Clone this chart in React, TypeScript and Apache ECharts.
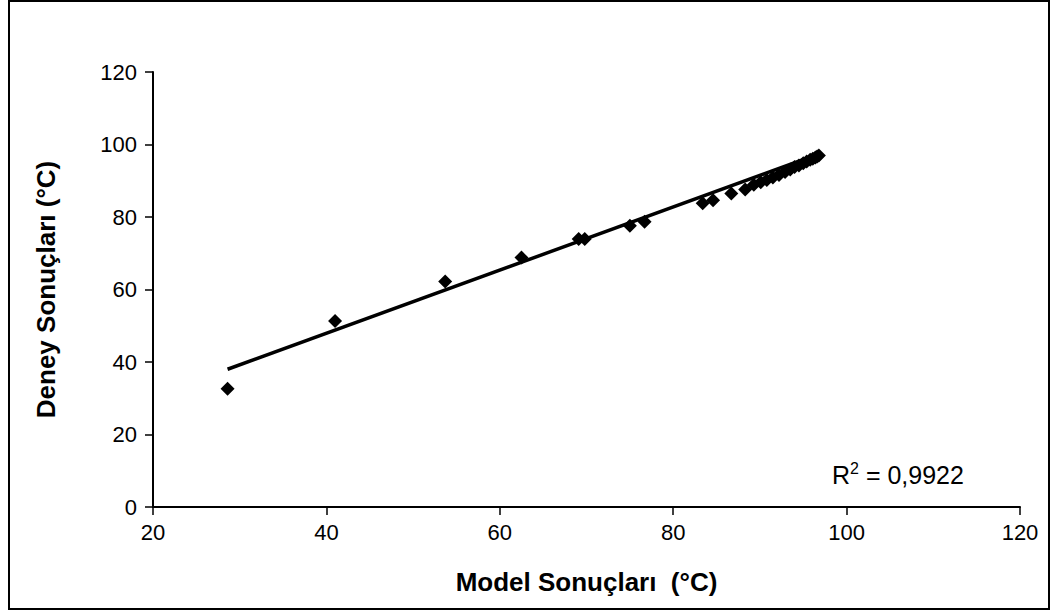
import React, { useEffect, useRef } from "react";
import * as echarts from "echarts";

const modelX = [28.6, 41.0, 53.7, 62.5, 69.1, 69.8, 75.0, 76.7, 83.4, 84.6, 86.7, 88.3, 89.3, 90.1, 90.8, 91.5, 92.2, 92.9, 93.5, 94.0, 94.5, 95.0, 95.4, 95.8, 96.1, 96.4, 96.6, 96.8];
const deneyY = [32.6, 51.3, 62.2, 68.8, 73.9, 73.9, 77.6, 78.7, 83.8, 84.6, 86.5, 87.6, 88.9, 89.6, 90.2, 90.9, 91.6, 92.4, 93.1, 93.8, 94.2, 94.8, 95.3, 95.8, 96.1, 96.4, 96.7, 97.0];
const trendX = [28.6, 96.8];
const trendY = [38.0, 97.4];
const xTicks = [20, 40, 60, 80, 100, 120];
const yTicks = [0, 20, 40, 60, 80, 100, 120];
const r2Label = "0,9922";

export default function App() {
  const ref = useRef<HTMLDivElement>(null);
  useEffect(() => {
    if (!ref.current) return;
    const chart = echarts.init(ref.current, null, { renderer: "svg" });
    const font = "Liberation Sans, Arial, sans-serif";
    chart.setOption({
      animation: false,
      backgroundColor: "#ffffff",
      textStyle: { fontFamily: font },
      grid: { left: 153, right: 32, top: 72, bottom: 105 },
      xAxis: {
        type: "value",
        min: xTicks[0],
        max: xTicks[xTicks.length - 1],
        interval: 20,
        name: "Model Sonuçları  (°C)",
        nameLocation: "middle",
        nameGap: 62,
        nameTextStyle: { fontSize: 26, fontWeight: "bold", color: "#000", fontFamily: font },
        axisLine: { lineStyle: { color: "#000", width: 2 } },
        axisTick: { show: true, length: 8, lineStyle: { color: "#000", width: 1.5 } },
        axisLabel: { fontSize: 22, color: "#000", margin: 14, fontFamily: font },
        splitLine: { show: false },
      },
      yAxis: {
        type: "value",
        min: yTicks[0],
        max: yTicks[yTicks.length - 1],
        interval: 20,
        name: "Deney Sonuçları (°C)",
        nameLocation: "middle",
        nameGap: 94,
        nameTextStyle: { fontSize: 26, fontWeight: "bold", color: "#000", fontFamily: font },
        axisLine: { show: true, lineStyle: { color: "#000", width: 2 } },
        axisTick: { show: true, length: 8, lineStyle: { color: "#000", width: 1.5 } },
        axisLabel: { fontSize: 22, color: "#000", margin: 16, fontFamily: font },
        splitLine: { show: false },
      },
      series: [
        {
          type: "line",
          data: trendX.map((x, i) => [x, trendY[i]]),
          showSymbol: false,
          lineStyle: { color: "#000", width: 3.5 },
          silent: true,
          z: 1,
        },
        {
          type: "scatter",
          data: modelX.map((x, i) => [x, deneyY[i]]),
          symbol: "diamond",
          symbolSize: 14,
          itemStyle: { color: "#000", opacity: 1 },
          z: 2,
        },
      ],
      graphic: [
        {
          type: "rect",
          shape: { x: 9, y: 1, width: 1040, height: 608 },
          style: { fill: "none", stroke: "#000", lineWidth: 2 },
          silent: true,
        },
        {
          type: "text",
          left: 832,
          top: 460,
          style: {
            text: "{a|R}{s|2}{a| = " + r2Label + "}",
            rich: {
              a: { fontSize: 25, fontFamily: font, fill: "#000", verticalAlign: "bottom" },
              s: { fontSize: 16, fontFamily: font, fill: "#000", verticalAlign: "top", padding: [0, 0, 11, 0] },
            },
          },
        },
      ],
    });
    return () => chart.dispose();
  }, []);
  return (
    <div
      ref={ref}
      style={{ position: "absolute", left: 0, top: 0, width: 1052, height: 612 }}
    />
  );
}
